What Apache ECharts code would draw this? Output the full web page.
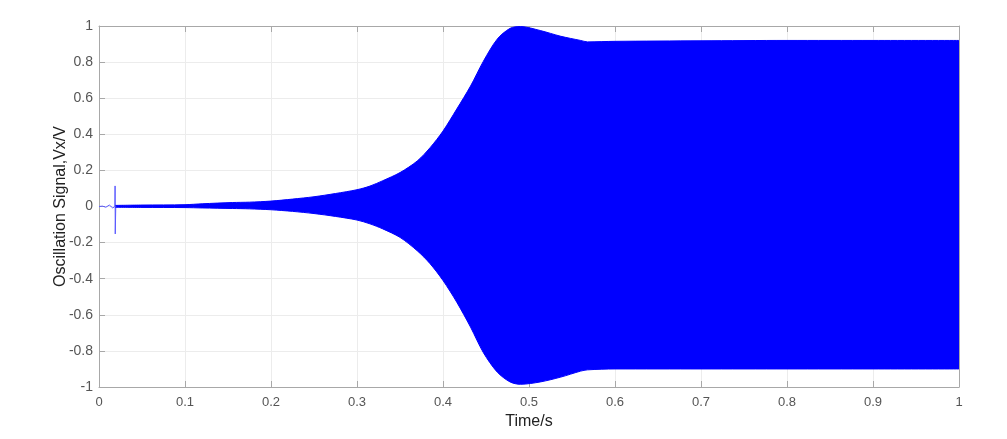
<!DOCTYPE html>
<html>
<head>
<meta charset="utf-8">
<script src="https://cdn.jsdelivr.net/npm/echarts@6/dist/echarts.min.js"></script>
<style>
html,body{margin:0;padding:0;background:#fff;}
#chart{width:1007px;height:439px;}
</style>
</head>
<body>
<div id="chart"></div>
<script>
// Initial thin transient (time, value)
const wiggleT = [0, 0.002, 0.004, 0.006, 0.008, 0.010, 0.012, 0.014, 0.016, 0.0185, 0.0187, 0.0189, 0.0195];
const wiggleV = [0, 0.008, 0.002, -0.008, -0.004, 0.006, 0.008, -0.002, -0.008, 0.0, 0.114, -0.152, 0.004];

// Envelope of the oscillation (time, upper, lower)
const envT  = [0.019, 0.05, 0.1, 0.12, 0.155, 0.175, 0.2, 0.225, 0.25, 0.275, 0.3, 0.315, 0.33, 0.35, 0.37, 0.385, 0.4, 0.416, 0.432, 0.447, 0.463, 0.478, 0.49, 0.513, 0.537, 0.56, 0.568, 0.6, 0.7, 0.8, 0.9, 1.0];
const upper = [0.006, 0.008, 0.010, 0.015, 0.022, 0.024, 0.030, 0.041, 0.054, 0.072, 0.093, 0.113, 0.143, 0.188, 0.252, 0.326, 0.418, 0.540, 0.667, 0.805, 0.927, 0.987, 0.997, 0.975, 0.943, 0.920, 0.912, 0.915, 0.918, 0.920, 0.920, 0.920];
const lower = [-0.004, -0.005, -0.006, -0.008, -0.011, -0.013, -0.018, -0.027, -0.039, -0.055, -0.075, -0.096, -0.124, -0.171, -0.245, -0.317, -0.410, -0.530, -0.668, -0.810, -0.917, -0.972, -0.985, -0.972, -0.945, -0.912, -0.905, -0.900, -0.900, -0.900, -0.900, -0.900];

const xTicks = [0, 0.1, 0.2, 0.3, 0.4, 0.5, 0.6, 0.7, 0.8, 0.9, 1];
const yTicks = [-1, -0.8, -0.6, -0.4, -0.2, 0, 0.2, 0.4, 0.6, 0.8, 1];

const zip = (a, b) => a.map((t, i) => [t, b[i]]);
const font = 'Liberation Sans, Arial, sans-serif';
const axisGray = '#a8a8a8';

const chart = echarts.init(document.getElementById('chart'), null, {renderer: 'canvas'});
chart.setOption({
  animation: false,
  backgroundColor: '#ffffff',
  grid: {left: 99, right: 48, top: 26, bottom: 52, containLabel: false},
  xAxis: [{
    type: 'value', min: xTicks[0], max: xTicks[xTicks.length - 1], interval: 0.1,
    name: 'Time/s', nameLocation: 'middle', nameGap: 27, nameMoveOverlap: false,
    nameTextStyle: {fontFamily: font, fontSize: 16, color: '#222'},
    axisLine: {show: true, onZero: false, lineStyle: {color: axisGray}},
    axisTick: {show: true, inside: true, length: 6, lineStyle: {color: axisGray}},
    axisLabel: {fontFamily: font, fontSize: 13, color: '#555', margin: 9},
    splitLine: {show: true, lineStyle: {color: '#ececec'}}
  }, {
    type: 'value', position: 'top', min: 0, max: 1, interval: 0.1,
    axisLine: {show: true, onZero: false, lineStyle: {color: axisGray}},
    axisTick: {show: true, inside: true, length: 6, lineStyle: {color: axisGray}},
    axisLabel: {show: false}, splitLine: {show: false}
  }],
  yAxis: [{
    type: 'value', min: yTicks[0], max: yTicks[yTicks.length - 1], interval: 0.2,
    name: 'Oscillation Signal,Vx/V', nameLocation: 'middle', nameGap: 30, nameMoveOverlap: false,
    nameTextStyle: {fontFamily: font, fontSize: 16, color: '#222'},
    axisLine: {show: true, onZero: false, lineStyle: {color: axisGray}},
    axisTick: {show: true, inside: true, length: 6, lineStyle: {color: axisGray}},
    axisLabel: {fontFamily: font, fontSize: 14, color: '#555', margin: 6,
      formatter: v => String(Math.round(v * 10) / 10)},
    splitLine: {show: true, lineStyle: {color: '#ececec'}}
  }, {
    type: 'value', position: 'right', min: -1, max: 1, interval: 0.2,
    axisLine: {show: true, onZero: false, lineStyle: {color: axisGray}},
    axisTick: {show: true, inside: true, length: 6, lineStyle: {color: axisGray}},
    axisLabel: {show: false}, splitLine: {show: false}
  }],
  series: [{
    type: 'line', name: 'transient', data: zip(wiggleT, wiggleV),
    showSymbol: false, smooth: false,
    lineStyle: {color: '#5a5aff', width: 1}
  }, {
    type: 'line', name: 'upper', data: zip(envT, upper),
    showSymbol: false, smooth: 0.3,
    lineStyle: {color: '#0000ff', width: 1},
    areaStyle: {color: '#0000ff', opacity: 1, origin: -0.004}
  }, {
    type: 'line', name: 'lower', data: zip(envT, lower),
    showSymbol: false, smooth: 0.3,
    lineStyle: {color: '#0000ff', width: 1},
    areaStyle: {color: '#0000ff', opacity: 1, origin: 0.003}
  }]
});
</script>
</body>
</html>
